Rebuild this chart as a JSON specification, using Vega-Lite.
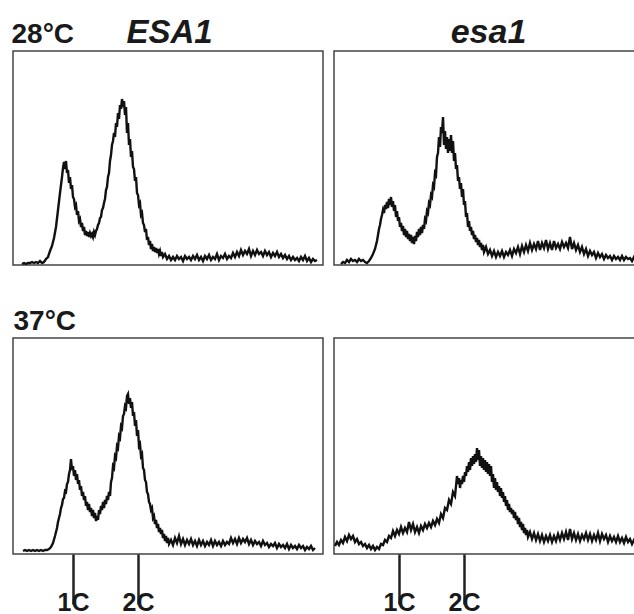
{
  "$schema": "https://vega.github.io/schema/vega-lite/v6.json",
  "padding": {"left": 10, "top": 14, "right": 0, "bottom": 0},
  "background": "white",
  "bounds": "flush",
  "columns": 2,
  "spacing": {"row": 73, "column": 11},
  "config": {
    "font": "Liberation Sans",
    "view": {"stroke": "#444", "strokeWidth": 1.5},
    "axis": {"domain": false, "ticks": false, "labels": false, "grid": false, "titleColor": "#1a1a1a", "titleFont": "Liberation Sans"}
  },
  "datasets": {
    "tl": [
      {"c":9,"n":1},{"c":11,"n":2},{"c":13,"n":1},{"c":15,"n":2},{"c":17,"n":2},{"c":19,"n":3},{"c":21,"n":2},{"c":23,"n":3},{"c":25,"n":2},{"c":27,"n":4},{"c":29,"n":2},{"c":31,"n":3},{"c":33,"n":6},{"c":35,"n":8},{"c":37,"n":14},{"c":39,"n":19},{"c":41,"n":27},{"c":43,"n":38},{"c":45,"n":55},{"c":47,"n":72},{"c":49,"n":88},{"c":50,"n":97},{"c":51,"n":103},{"c":52,"n":96},{"c":53,"n":104},{"c":54,"n":92},{"c":55,"n":95},{"c":56,"n":82},{"c":57,"n":88},{"c":58,"n":76},{"c":59,"n":80},{"c":60,"n":68},{"c":61,"n":66},{"c":62,"n":58},{"c":63,"n":60},{"c":64,"n":50},{"c":65,"n":54},{"c":66,"n":44},{"c":67,"n":46},{"c":68,"n":38},{"c":69,"n":42},{"c":70,"n":34},{"c":71,"n":38},{"c":72,"n":30},{"c":73,"n":34},{"c":74,"n":29},{"c":75,"n":33},{"c":76,"n":28},{"c":77,"n":32},{"c":78,"n":29},{"c":79,"n":31},{"c":80,"n":28},{"c":81,"n":33},{"c":82,"n":30},{"c":83,"n":34},{"c":84,"n":36},{"c":85,"n":40},{"c":86,"n":42},{"c":87,"n":47},{"c":88,"n":48},{"c":89,"n":55},{"c":90,"n":57},{"c":91,"n":62},{"c":92,"n":66},{"c":93,"n":75},{"c":94,"n":78},{"c":95,"n":88},{"c":96,"n":92},{"c":97,"n":104},{"c":98,"n":110},{"c":99,"n":120},{"c":100,"n":124},{"c":101,"n":132},{"c":102,"n":128},{"c":103,"n":142},{"c":104,"n":138},{"c":105,"n":152},{"c":106,"n":146},{"c":107,"n":160},{"c":108,"n":156},{"c":109,"n":166},{"c":110,"n":158},{"c":111,"n":164},{"c":112,"n":150},{"c":113,"n":158},{"c":114,"n":132},{"c":115,"n":142},{"c":116,"n":120},{"c":117,"n":126},{"c":118,"n":108},{"c":119,"n":114},{"c":120,"n":98},{"c":121,"n":96},{"c":122,"n":84},{"c":123,"n":88},{"c":124,"n":72},{"c":125,"n":70},{"c":126,"n":60},{"c":127,"n":62},{"c":128,"n":50},{"c":129,"n":52},{"c":130,"n":42},{"c":131,"n":40},{"c":132,"n":33},{"c":133,"n":36},{"c":134,"n":25},{"c":135,"n":28},{"c":136,"n":20},{"c":137,"n":24},{"c":138,"n":16},{"c":139,"n":21},{"c":140,"n":14},{"c":141,"n":18},{"c":142,"n":13},{"c":143,"n":17},{"c":144,"n":12},{"c":145,"n":16},{"c":146,"n":11},{"c":147,"n":14},{"c":148,"n":9},{"c":149,"n":13},{"c":150,"n":8},{"c":152,"n":11},{"c":154,"n":6},{"c":156,"n":9},{"c":158,"n":5},{"c":160,"n":8},{"c":162,"n":5},{"c":164,"n":9},{"c":166,"n":6},{"c":168,"n":8},{"c":170,"n":4},{"c":172,"n":9},{"c":174,"n":6},{"c":176,"n":8},{"c":178,"n":5},{"c":180,"n":9},{"c":182,"n":6},{"c":184,"n":10},{"c":186,"n":5},{"c":188,"n":8},{"c":190,"n":4},{"c":192,"n":9},{"c":194,"n":6},{"c":196,"n":10},{"c":198,"n":5},{"c":200,"n":8},{"c":202,"n":6},{"c":204,"n":11},{"c":206,"n":5},{"c":208,"n":9},{"c":210,"n":7},{"c":212,"n":11},{"c":214,"n":6},{"c":216,"n":9},{"c":218,"n":7},{"c":220,"n":12},{"c":222,"n":8},{"c":224,"n":13},{"c":226,"n":9},{"c":228,"n":15},{"c":230,"n":10},{"c":232,"n":14},{"c":234,"n":11},{"c":236,"n":16},{"c":238,"n":9},{"c":240,"n":14},{"c":242,"n":10},{"c":244,"n":15},{"c":246,"n":11},{"c":248,"n":13},{"c":250,"n":9},{"c":252,"n":14},{"c":254,"n":10},{"c":256,"n":13},{"c":258,"n":8},{"c":260,"n":12},{"c":262,"n":9},{"c":264,"n":13},{"c":266,"n":8},{"c":268,"n":11},{"c":270,"n":7},{"c":272,"n":10},{"c":274,"n":6},{"c":276,"n":9},{"c":278,"n":5},{"c":280,"n":8},{"c":282,"n":5},{"c":284,"n":7},{"c":286,"n":4},{"c":288,"n":8},{"c":290,"n":5},{"c":292,"n":9},{"c":294,"n":4},{"c":296,"n":7},{"c":298,"n":3},{"c":300,"n":6},{"c":302,"n":4},{"c":304,"n":5}
    ],
    "tr": [
      {"c":7,"n":1},{"c":9,"n":3},{"c":11,"n":2},{"c":13,"n":5},{"c":15,"n":3},{"c":17,"n":6},{"c":19,"n":4},{"c":21,"n":5},{"c":23,"n":3},{"c":25,"n":6},{"c":27,"n":4},{"c":29,"n":5},{"c":31,"n":3},{"c":33,"n":2},{"c":35,"n":4},{"c":37,"n":7},{"c":39,"n":11},{"c":41,"n":16},{"c":43,"n":24},{"c":44,"n":30},{"c":45,"n":36},{"c":46,"n":40},{"c":47,"n":46},{"c":48,"n":50},{"c":49,"n":55},{"c":50,"n":52},{"c":51,"n":60},{"c":52,"n":56},{"c":53,"n":63},{"c":54,"n":57},{"c":55,"n":66},{"c":56,"n":60},{"c":57,"n":68},{"c":58,"n":58},{"c":59,"n":64},{"c":60,"n":54},{"c":61,"n":60},{"c":62,"n":48},{"c":63,"n":54},{"c":64,"n":44},{"c":65,"n":48},{"c":66,"n":38},{"c":67,"n":42},{"c":68,"n":34},{"c":69,"n":39},{"c":70,"n":30},{"c":71,"n":36},{"c":72,"n":28},{"c":73,"n":34},{"c":74,"n":26},{"c":75,"n":31},{"c":76,"n":24},{"c":77,"n":30},{"c":78,"n":22},{"c":79,"n":28},{"c":80,"n":21},{"c":81,"n":29},{"c":82,"n":24},{"c":83,"n":33},{"c":84,"n":28},{"c":85,"n":36},{"c":86,"n":30},{"c":87,"n":38},{"c":88,"n":32},{"c":89,"n":40},{"c":90,"n":36},{"c":91,"n":46},{"c":92,"n":44},{"c":93,"n":54},{"c":94,"n":52},{"c":95,"n":62},{"c":96,"n":60},{"c":97,"n":70},{"c":98,"n":68},{"c":99,"n":80},{"c":100,"n":78},{"c":101,"n":92},{"c":102,"n":90},{"c":103,"n":108},{"c":104,"n":112},{"c":105,"n":128},{"c":106,"n":118},{"c":107,"n":138},{"c":108,"n":132},{"c":109,"n":148},{"c":110,"n":120},{"c":111,"n":134},{"c":112,"n":116},{"c":113,"n":128},{"c":114,"n":112},{"c":115,"n":126},{"c":116,"n":114},{"c":117,"n":130},{"c":118,"n":112},{"c":119,"n":124},{"c":120,"n":104},{"c":121,"n":112},{"c":122,"n":96},{"c":123,"n":100},{"c":124,"n":84},{"c":125,"n":88},{"c":126,"n":76},{"c":127,"n":82},{"c":128,"n":68},{"c":129,"n":76},{"c":130,"n":60},{"c":131,"n":64},{"c":132,"n":48},{"c":133,"n":52},{"c":134,"n":38},{"c":135,"n":44},{"c":136,"n":34},{"c":137,"n":38},{"c":138,"n":30},{"c":139,"n":34},{"c":140,"n":26},{"c":141,"n":30},{"c":142,"n":23},{"c":143,"n":27},{"c":144,"n":20},{"c":145,"n":25},{"c":146,"n":18},{"c":147,"n":22},{"c":148,"n":15},{"c":149,"n":20},{"c":150,"n":13},{"c":152,"n":18},{"c":154,"n":11},{"c":156,"n":15},{"c":158,"n":9},{"c":160,"n":14},{"c":162,"n":8},{"c":164,"n":13},{"c":166,"n":9},{"c":168,"n":14},{"c":170,"n":8},{"c":172,"n":13},{"c":174,"n":10},{"c":176,"n":15},{"c":178,"n":9},{"c":180,"n":16},{"c":182,"n":12},{"c":184,"n":18},{"c":186,"n":11},{"c":188,"n":19},{"c":190,"n":13},{"c":192,"n":20},{"c":194,"n":14},{"c":196,"n":22},{"c":198,"n":15},{"c":200,"n":21},{"c":202,"n":16},{"c":204,"n":24},{"c":206,"n":15},{"c":208,"n":22},{"c":210,"n":17},{"c":212,"n":25},{"c":214,"n":16},{"c":216,"n":22},{"c":218,"n":15},{"c":220,"n":24},{"c":222,"n":17},{"c":224,"n":21},{"c":226,"n":16},{"c":228,"n":23},{"c":230,"n":18},{"c":232,"n":22},{"c":234,"n":17},{"c":236,"n":28},{"c":238,"n":16},{"c":240,"n":22},{"c":242,"n":15},{"c":244,"n":20},{"c":246,"n":13},{"c":248,"n":18},{"c":250,"n":11},{"c":252,"n":16},{"c":254,"n":9},{"c":256,"n":14},{"c":258,"n":10},{"c":260,"n":13},{"c":262,"n":7},{"c":264,"n":12},{"c":266,"n":8},{"c":268,"n":11},{"c":270,"n":6},{"c":272,"n":10},{"c":274,"n":7},{"c":276,"n":9},{"c":278,"n":5},{"c":280,"n":9},{"c":282,"n":6},{"c":284,"n":8},{"c":286,"n":5},{"c":288,"n":9},{"c":290,"n":5},{"c":292,"n":8},{"c":294,"n":6},{"c":296,"n":7},{"c":298,"n":4},{"c":300,"n":8},{"c":302,"n":5},{"c":304,"n":7},{"c":306,"n":5},{"c":308,"n":8},{"c":310,"n":6}
    ],
    "bl": [
      {"c":10,"n":3},{"c":12,"n":4},{"c":14,"n":3},{"c":16,"n":4},{"c":18,"n":3},{"c":20,"n":4},{"c":22,"n":3},{"c":24,"n":4},{"c":26,"n":3},{"c":28,"n":4},{"c":30,"n":3},{"c":32,"n":4},{"c":34,"n":4},{"c":36,"n":5},{"c":38,"n":7},{"c":40,"n":11},{"c":42,"n":18},{"c":44,"n":26},{"c":45,"n":32},{"c":46,"n":36},{"c":47,"n":40},{"c":48,"n":46},{"c":49,"n":49},{"c":50,"n":55},{"c":51,"n":56},{"c":52,"n":63},{"c":53,"n":62},{"c":54,"n":70},{"c":55,"n":72},{"c":56,"n":80},{"c":57,"n":84},{"c":58,"n":95},{"c":59,"n":84},{"c":60,"n":88},{"c":61,"n":78},{"c":62,"n":84},{"c":63,"n":74},{"c":64,"n":80},{"c":65,"n":70},{"c":66,"n":74},{"c":67,"n":64},{"c":68,"n":68},{"c":69,"n":58},{"c":70,"n":62},{"c":71,"n":54},{"c":72,"n":58},{"c":73,"n":48},{"c":74,"n":52},{"c":75,"n":44},{"c":76,"n":50},{"c":77,"n":42},{"c":78,"n":46},{"c":79,"n":38},{"c":80,"n":44},{"c":81,"n":36},{"c":82,"n":41},{"c":83,"n":33},{"c":84,"n":38},{"c":85,"n":34},{"c":86,"n":44},{"c":87,"n":40},{"c":88,"n":48},{"c":89,"n":44},{"c":90,"n":52},{"c":91,"n":46},{"c":92,"n":54},{"c":93,"n":50},{"c":94,"n":58},{"c":95,"n":54},{"c":96,"n":62},{"c":97,"n":58},{"c":98,"n":72},{"c":99,"n":76},{"c":100,"n":88},{"c":101,"n":86},{"c":102,"n":98},{"c":103,"n":96},{"c":104,"n":108},{"c":105,"n":106},{"c":106,"n":118},{"c":107,"n":116},{"c":108,"n":128},{"c":109,"n":126},{"c":110,"n":138},{"c":111,"n":140},{"c":112,"n":148},{"c":113,"n":146},{"c":114,"n":158},{"c":115,"n":160},{"c":116,"n":150},{"c":117,"n":156},{"c":118,"n":146},{"c":119,"n":152},{"c":120,"n":138},{"c":121,"n":142},{"c":122,"n":128},{"c":123,"n":134},{"c":124,"n":118},{"c":125,"n":124},{"c":126,"n":108},{"c":127,"n":110},{"c":128,"n":98},{"c":129,"n":100},{"c":130,"n":86},{"c":131,"n":84},{"c":132,"n":74},{"c":133,"n":72},{"c":134,"n":62},{"c":135,"n":60},{"c":136,"n":52},{"c":137,"n":50},{"c":138,"n":44},{"c":139,"n":46},{"c":140,"n":36},{"c":141,"n":38},{"c":142,"n":30},{"c":143,"n":34},{"c":144,"n":26},{"c":145,"n":30},{"c":146,"n":22},{"c":147,"n":26},{"c":148,"n":20},{"c":149,"n":24},{"c":150,"n":16},{"c":151,"n":20},{"c":152,"n":13},{"c":153,"n":18},{"c":154,"n":11},{"c":155,"n":16},{"c":156,"n":10},{"c":158,"n":14},{"c":160,"n":9},{"c":162,"n":16},{"c":164,"n":11},{"c":166,"n":18},{"c":168,"n":10},{"c":170,"n":15},{"c":172,"n":9},{"c":174,"n":14},{"c":176,"n":10},{"c":178,"n":15},{"c":180,"n":9},{"c":182,"n":13},{"c":184,"n":8},{"c":186,"n":14},{"c":188,"n":9},{"c":190,"n":13},{"c":192,"n":8},{"c":194,"n":12},{"c":196,"n":9},{"c":198,"n":14},{"c":200,"n":8},{"c":202,"n":13},{"c":204,"n":9},{"c":206,"n":12},{"c":208,"n":8},{"c":210,"n":13},{"c":212,"n":9},{"c":214,"n":12},{"c":216,"n":10},{"c":218,"n":16},{"c":220,"n":11},{"c":222,"n":15},{"c":224,"n":10},{"c":226,"n":16},{"c":228,"n":11},{"c":230,"n":15},{"c":232,"n":12},{"c":234,"n":16},{"c":236,"n":10},{"c":238,"n":14},{"c":240,"n":9},{"c":242,"n":13},{"c":244,"n":10},{"c":246,"n":12},{"c":248,"n":8},{"c":250,"n":13},{"c":252,"n":9},{"c":254,"n":11},{"c":256,"n":7},{"c":258,"n":10},{"c":260,"n":8},{"c":262,"n":11},{"c":264,"n":6},{"c":266,"n":10},{"c":268,"n":7},{"c":270,"n":9},{"c":272,"n":6},{"c":274,"n":10},{"c":276,"n":5},{"c":278,"n":9},{"c":280,"n":6},{"c":282,"n":8},{"c":284,"n":5},{"c":286,"n":9},{"c":288,"n":6},{"c":290,"n":8},{"c":292,"n":4},{"c":294,"n":7},{"c":296,"n":5},{"c":298,"n":8},{"c":300,"n":4},{"c":302,"n":6}
    ],
    "br": [
      {"c":1,"n":8},{"c":3,"n":12},{"c":5,"n":9},{"c":7,"n":14},{"c":9,"n":11},{"c":11,"n":17},{"c":13,"n":13},{"c":15,"n":19},{"c":17,"n":15},{"c":19,"n":18},{"c":21,"n":12},{"c":23,"n":15},{"c":25,"n":10},{"c":27,"n":12},{"c":29,"n":8},{"c":31,"n":10},{"c":33,"n":6},{"c":35,"n":9},{"c":37,"n":5},{"c":39,"n":8},{"c":41,"n":4},{"c":43,"n":7},{"c":45,"n":5},{"c":47,"n":10},{"c":49,"n":9},{"c":51,"n":14},{"c":53,"n":12},{"c":55,"n":18},{"c":57,"n":16},{"c":59,"n":23},{"c":61,"n":18},{"c":63,"n":24},{"c":65,"n":20},{"c":67,"n":27},{"c":69,"n":21},{"c":71,"n":26},{"c":73,"n":22},{"c":75,"n":32},{"c":77,"n":24},{"c":79,"n":30},{"c":81,"n":22},{"c":83,"n":27},{"c":85,"n":21},{"c":87,"n":28},{"c":89,"n":24},{"c":91,"n":30},{"c":93,"n":26},{"c":95,"n":31},{"c":97,"n":27},{"c":99,"n":33},{"c":101,"n":29},{"c":103,"n":35},{"c":105,"n":31},{"c":107,"n":40},{"c":109,"n":36},{"c":111,"n":46},{"c":113,"n":44},{"c":115,"n":54},{"c":117,"n":50},{"c":119,"n":62},{"c":121,"n":58},{"c":123,"n":78},{"c":124,"n":70},{"c":125,"n":76},{"c":126,"n":66},{"c":127,"n":74},{"c":128,"n":70},{"c":129,"n":78},{"c":130,"n":72},{"c":131,"n":82},{"c":132,"n":78},{"c":133,"n":88},{"c":134,"n":82},{"c":135,"n":92},{"c":136,"n":84},{"c":137,"n":96},{"c":138,"n":88},{"c":139,"n":98},{"c":140,"n":90},{"c":141,"n":100},{"c":142,"n":92},{"c":143,"n":106},{"c":144,"n":94},{"c":145,"n":104},{"c":146,"n":88},{"c":147,"n":98},{"c":148,"n":86},{"c":149,"n":96},{"c":150,"n":84},{"c":151,"n":94},{"c":152,"n":82},{"c":153,"n":92},{"c":154,"n":80},{"c":155,"n":90},{"c":156,"n":78},{"c":157,"n":88},{"c":158,"n":72},{"c":159,"n":80},{"c":160,"n":66},{"c":161,"n":76},{"c":162,"n":64},{"c":163,"n":72},{"c":164,"n":62},{"c":165,"n":68},{"c":166,"n":58},{"c":167,"n":66},{"c":168,"n":56},{"c":169,"n":62},{"c":170,"n":52},{"c":171,"n":58},{"c":172,"n":48},{"c":173,"n":54},{"c":174,"n":44},{"c":175,"n":50},{"c":176,"n":42},{"c":177,"n":46},{"c":178,"n":40},{"c":179,"n":44},{"c":180,"n":36},{"c":181,"n":42},{"c":182,"n":34},{"c":183,"n":38},{"c":184,"n":30},{"c":185,"n":36},{"c":186,"n":27},{"c":187,"n":32},{"c":188,"n":24},{"c":189,"n":30},{"c":190,"n":21},{"c":191,"n":26},{"c":192,"n":19},{"c":193,"n":24},{"c":194,"n":17},{"c":196,"n":22},{"c":198,"n":15},{"c":200,"n":21},{"c":202,"n":14},{"c":204,"n":20},{"c":206,"n":13},{"c":208,"n":19},{"c":210,"n":12},{"c":212,"n":18},{"c":214,"n":13},{"c":216,"n":19},{"c":218,"n":12},{"c":220,"n":18},{"c":222,"n":13},{"c":224,"n":20},{"c":226,"n":14},{"c":228,"n":21},{"c":230,"n":15},{"c":232,"n":22},{"c":234,"n":14},{"c":236,"n":25},{"c":238,"n":15},{"c":240,"n":21},{"c":242,"n":14},{"c":244,"n":20},{"c":246,"n":13},{"c":248,"n":19},{"c":250,"n":15},{"c":252,"n":21},{"c":254,"n":14},{"c":256,"n":20},{"c":258,"n":13},{"c":260,"n":19},{"c":262,"n":14},{"c":264,"n":21},{"c":266,"n":13},{"c":268,"n":20},{"c":270,"n":15},{"c":272,"n":19},{"c":274,"n":12},{"c":276,"n":18},{"c":278,"n":13},{"c":280,"n":17},{"c":282,"n":12},{"c":284,"n":18},{"c":286,"n":12},{"c":288,"n":16},{"c":290,"n":11},{"c":292,"n":17},{"c":294,"n":12},{"c":296,"n":15},{"c":298,"n":10},{"c":300,"n":14},{"c":302,"n":10},{"c":304,"n":13},{"c":306,"n":9},{"c":308,"n":12},{"c":310,"n":10}
    ]
  },
  "concat": [
    {
      "width": 310, "height": 214,
      "data": {"name": "tl"},
      "mark": {"type": "line", "color": "#111", "strokeWidth": 2.4, "clip": true},
      "encoding": {
        "x": {"field": "c", "type": "quantitative", "scale": {"domain": [0, 310], "nice": false, "zero": false},
              "axis": {"orient": "top", "title": "ESA1", "titleFontSize": 33, "titleFontStyle": "italic", "titleFontWeight": "bold", "titleX": 156, "titleY": -9, "titleBaseline": "alphabetic", "titleAlign": "center"}},
        "y": {"field": "n", "type": "quantitative", "scale": {"domain": [0, 214], "nice": false},
              "axis": {"title": "28°C", "titleAngle": 0, "titleX": -2, "titleY": -9, "titleAlign": "left", "titleBaseline": "alphabetic", "titleFontSize": 28, "titleFontWeight": "bold"}}
      }
    },
    {
      "width": 310, "height": 214,
      "data": {"name": "tr"},
      "mark": {"type": "line", "color": "#111", "strokeWidth": 2.4, "clip": true},
      "encoding": {
        "x": {"field": "c", "type": "quantitative", "scale": {"domain": [0, 310], "nice": false, "zero": false},
              "axis": {"orient": "top", "title": "esa1", "titleFontSize": 34, "titleFontStyle": "italic", "titleFontWeight": "bold", "titleX": 154, "titleY": -9, "titleBaseline": "alphabetic", "titleAlign": "center"}},
        "y": {"field": "n", "type": "quantitative", "scale": {"domain": [0, 214], "nice": false}, "axis": null}
      }
    },
    {
      "width": 310, "height": 216,
      "data": {"name": "bl"},
      "mark": {"type": "line", "color": "#111", "strokeWidth": 2.4, "clip": true},
      "encoding": {
        "x": {"field": "c", "type": "quantitative", "scale": {"domain": [0, 310], "nice": false, "zero": false},
              "axis": {"orient": "bottom", "title": null, "values": [60, 125], "labelExpr": "datum.value < 100 ? '1C' : '2C'", "ticks": true, "tickSize": 50, "tickWidth": 2.5, "tickColor": "#222", "labels": true, "labelFontSize": 25, "labelFontWeight": "bold", "labelColor": "#1a1a1a", "labelPadding": 6, "labelBaseline": "alphabetic", "labelOverlap": false, "labelFlush": false, "labelBound": false}},
        "y": {"field": "n", "type": "quantitative", "scale": {"domain": [0, 216], "nice": false},
              "axis": {"title": "37°C", "titleAngle": 0, "titleX": 0, "titleY": -9, "titleAlign": "left", "titleBaseline": "alphabetic", "titleFontSize": 28, "titleFontWeight": "bold"}}
      }
    },
    {
      "width": 310, "height": 216,
      "data": {"name": "br"},
      "mark": {"type": "line", "color": "#111", "strokeWidth": 2.4, "clip": true},
      "encoding": {
        "x": {"field": "c", "type": "quantitative", "scale": {"domain": [0, 310], "nice": false, "zero": false},
              "axis": {"orient": "bottom", "title": null, "values": [65, 130], "labelExpr": "datum.value < 100 ? '1C' : '2C'", "ticks": true, "tickSize": 50, "tickWidth": 2.5, "tickColor": "#222", "labels": true, "labelFontSize": 25, "labelFontWeight": "bold", "labelColor": "#1a1a1a", "labelPadding": 6, "labelBaseline": "alphabetic", "labelOverlap": false, "labelFlush": false, "labelBound": false}},
        "y": {"field": "n", "type": "quantitative", "scale": {"domain": [0, 216], "nice": false}, "axis": null}
      }
    }
  ]
}
